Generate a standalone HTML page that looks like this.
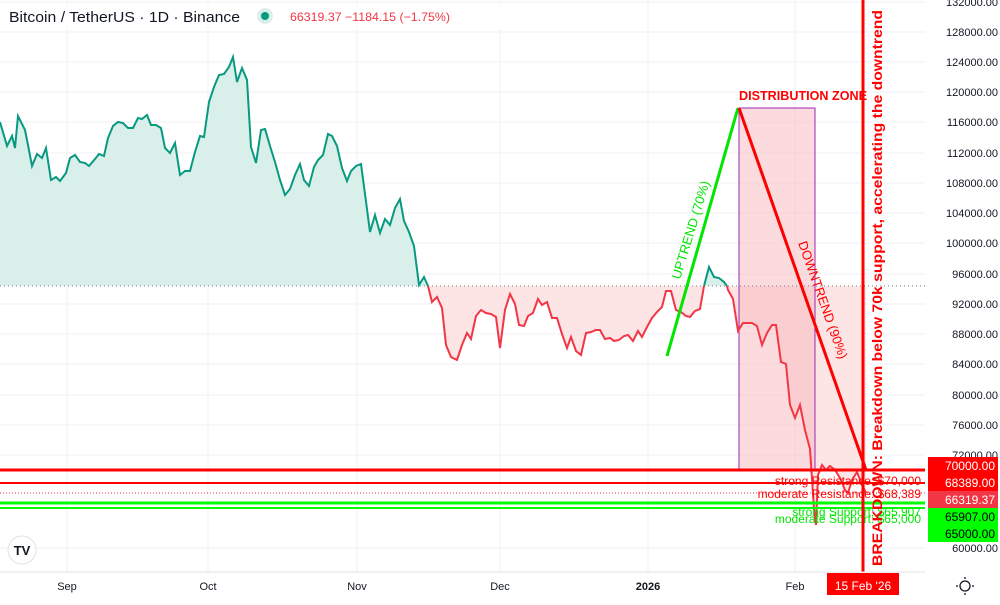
<!DOCTYPE html>
<html><head><meta charset="utf-8"><style>
body{margin:0;width:1000px;height:600px;overflow:hidden;background:#fff;font-family:"Liberation Sans",sans-serif}
</style></head><body>
<svg width="1000" height="600" viewBox="0 0 1000 600" xmlns="http://www.w3.org/2000/svg" font-family="Liberation Sans, sans-serif">
<rect width="1000" height="600" fill="#fff"/>
<g stroke="#f0f2f5" stroke-width="1">
<line x1="67" y1="0" x2="67" y2="572"/><line x1="208" y1="0" x2="208" y2="572"/><line x1="357" y1="0" x2="357" y2="572"/><line x1="500" y1="0" x2="500" y2="572"/><line x1="648" y1="0" x2="648" y2="572"/><line x1="795" y1="0" x2="795" y2="572"/>
<line x1="0" y1="2" x2="925" y2="2"/><line x1="0" y1="32" x2="925" y2="32"/><line x1="0" y1="62" x2="925" y2="62"/><line x1="0" y1="92" x2="925" y2="92"/><line x1="0" y1="122" x2="925" y2="122"/><line x1="0" y1="153" x2="925" y2="153"/><line x1="0" y1="183" x2="925" y2="183"/><line x1="0" y1="213" x2="925" y2="213"/><line x1="0" y1="243" x2="925" y2="243"/><line x1="0" y1="274" x2="925" y2="274"/><line x1="0" y1="304" x2="925" y2="304"/><line x1="0" y1="334" x2="925" y2="334"/><line x1="0" y1="364" x2="925" y2="364"/><line x1="0" y1="395" x2="925" y2="395"/><line x1="0" y1="425" x2="925" y2="425"/><line x1="0" y1="455" x2="925" y2="455"/><line x1="0" y1="548" x2="925" y2="548"/>
</g>
<polygon fill="#d9efe9" points="0,286 0,122 7,146 12,136 15,148 18,116 25,130 28,145 32,166 37,154 42,158 46,148 51,180 56,177 60,181 66,173 70,158 75,155 80,162 85,163 89,166 95,159 99,154 104,156 108,138 113,126 118,122 123,123 128,128 133,128 138,118 142,119 147,115 151,125 156,125 161,128 165,148 170,153 175,143 180,175 185,171 190,171 195,152 200,136 204,137 209,102 214,87 219,75 224,74 229,67 233,57 237,82 242,68 247,80 251,147 256,163 261,130 265,129 270,146 275,162 280,180 285,195 290,189 295,175 300,164 304,180 309,186 314,167 318,160 323,155 328,134 332,136 337,146 342,168 347,181 351,171 356,166 361,164 365,194 370,232 375,215 380,233 385,219 390,225 395,208 400,199 404,221 409,232 414,246 419,285 424,277 428,286"/>
<polygon fill="#d9efe9" points="704,286 709,267 714,277 719,278 724,282 727,286"/>
<polygon fill="#fde4e5" points="428,286 432,302 437,297 442,308 446,345 451,357 457,360 462,345 467,333 471,339 476,316 481,310 486,313 491,314 496,317 500,348 505,310 510,294 515,304 519,325 524,326 528,316 533,313 538,299 542,305 547,302 552,318 557,318 562,334 567,348 571,337 576,351 581,355 586,333 591,332 596,330 600,330 605,339 610,338 614,341 619,340 624,336 628,335 633,341 638,331 642,337 647,327 652,318 657,312 662,307 666,291 671,291 676,310 681,312 686,316 690,317 695,311 700,309 704,286 727,286 728,290 733,299 738,331 743,323 748,323 752,323 757,326 762,345 767,333 772,325 776,325 781,362 786,364 790,405 795,418 800,405 805,430 810,449 814,509 816,525 818,475 822,465 826,470 830,466 835,470 840,478 845,490 848,493 852,480 857,472 862,485 866,493 866,286"/>
<rect x="739" y="108" width="76" height="362" fill="#f8b8bb" fill-opacity="0.5" stroke="#9c27b0" stroke-width="1"/>
<line x1="0" y1="286" x2="925" y2="286" stroke="#787b86" stroke-width="1" stroke-dasharray="1,3"/>
<polyline fill="none" stroke="#089981" stroke-width="2" points="0,122 7,146 12,136 15,148 18,116 25,130 28,145 32,166 37,154 42,158 46,148 51,180 56,177 60,181 66,173 70,158 75,155 80,162 85,163 89,166 95,159 99,154 104,156 108,138 113,126 118,122 123,123 128,128 133,128 138,118 142,119 147,115 151,125 156,125 161,128 165,148 170,153 175,143 180,175 185,171 190,171 195,152 200,136 204,137 209,102 214,87 219,75 224,74 229,67 233,57 237,82 242,68 247,80 251,147 256,163 261,130 265,129 270,146 275,162 280,180 285,195 290,189 295,175 300,164 304,180 309,186 314,167 318,160 323,155 328,134 332,136 337,146 342,168 347,181 351,171 356,166 361,164 365,194 370,232 375,215 380,233 385,219 390,225 395,208 400,199 404,221 409,232 414,246 419,285 424,277 428,286"/>
<polyline fill="none" stroke="#089981" stroke-width="2" points="704,286 709,267 714,277 719,278 724,282 727,286"/>
<polyline fill="none" stroke="#f23645" stroke-width="2" points="428,286 432,302 437,297 442,308 446,345 451,357 457,360 462,345 467,333 471,339 476,316 481,310 486,313 491,314 496,317 500,348 505,310 510,294 515,304 519,325 524,326 528,316 533,313 538,299 542,305 547,302 552,318 557,318 562,334 567,348 571,337 576,351 581,355 586,333 591,332 596,330 600,330 605,339 610,338 614,341 619,340 624,336 628,335 633,341 638,331 642,337 647,327 652,318 657,312 662,307 666,291 671,291 676,310 681,312 686,316 690,317 695,311 700,309 704,286"/>
<polyline fill="none" stroke="#f23645" stroke-width="2" points="727,286 728,290 733,299 738,331 743,323 748,323 752,323 757,326 762,345 767,333 772,325 776,325 781,362 786,364 790,405 795,418 800,405 805,430 810,449 814,509 816,525 818,475 822,465 826,470 830,466 835,470 840,478 845,490 848,493 852,480 857,472 862,485 866,493"/>
<line x1="667" y1="356" x2="738" y2="108" stroke="#00e600" stroke-width="3"/>
<line x1="739" y1="108" x2="866" y2="470" stroke="#ff0000" stroke-width="3"/>
<text x="739" y="100" font-size="13" font-weight="bold" fill="#ff0000" textLength="128" lengthAdjust="spacingAndGlyphs">DISTRIBUTION ZONE</text>
<text transform="translate(680,280) rotate(-73)" font-size="13" fill="#00e600" textLength="102" lengthAdjust="spacingAndGlyphs">UPTREND (70%)</text>
<text transform="translate(798,243) rotate(70.5)" font-size="13" fill="#ff0000" textLength="124" lengthAdjust="spacingAndGlyphs">DOWNTREND (90%)</text>
<line x1="0" y1="470" x2="925" y2="470" stroke="#ff0000" stroke-width="3"/>
<line x1="0" y1="483" x2="925" y2="483" stroke="#ff0000" stroke-width="2"/>
<line x1="0" y1="493" x2="925" y2="493" stroke="#f23645" stroke-width="1" stroke-dasharray="1,2"/>
<line x1="0" y1="503" x2="925" y2="503" stroke="#00ff00" stroke-width="3"/>
<line x1="0" y1="508" x2="925" y2="508" stroke="#00ff00" stroke-width="2"/>
<g font-size="12" text-anchor="end">
<text x="921" y="485" fill="#ff0000">strong Resistance: $70,000</text>
<text x="921" y="498" fill="#ff0000">moderate Resistance: $68,389</text>
<text x="921" y="516" fill="#00e600">strong Support: $65,907</text>
<text x="921" y="523" fill="#00e600">moderate Support: $65,000</text>
</g>
<line x1="863" y1="0" x2="863" y2="572" stroke="#ff0000" stroke-width="3"/>
<text transform="translate(882,566) rotate(-90)" font-size="14" font-weight="bold" fill="#ff0000" textLength="556" lengthAdjust="spacingAndGlyphs">BREAKDOWN: Breakdown below 70k support, accelerating the downtrend</text>
<line x1="0" y1="572" x2="925" y2="572" stroke="#e0e3eb"/>
<g font-size="11" fill="#131722" text-anchor="end">
<text x="998" y="6">132000.00</text><text x="998" y="36">128000.00</text><text x="998" y="66">124000.00</text><text x="998" y="96">120000.00</text><text x="998" y="126">116000.00</text><text x="998" y="157">112000.00</text><text x="998" y="187">108000.00</text><text x="998" y="217">104000.00</text><text x="998" y="247">100000.00</text><text x="998" y="278">96000.00</text><text x="998" y="308">92000.00</text><text x="998" y="338">88000.00</text><text x="998" y="368">84000.00</text><text x="998" y="399">80000.00</text><text x="998" y="429">76000.00</text><text x="998" y="459">72000.00</text><text x="998" y="552">60000.00</text>
</g>
<rect x="928" y="457" width="70" height="17" fill="#ff0000"/>
<rect x="928" y="474" width="70" height="17" fill="#ff0000"/>
<rect x="928" y="491" width="70" height="17" fill="#f23645"/>
<rect x="928" y="508" width="70" height="17" fill="#00ff00"/>
<rect x="928" y="525" width="70" height="17" fill="#00ff00"/>
<g font-size="12" text-anchor="end">
<text x="995" y="470" fill="#fff">70000.00</text><text x="995" y="487" fill="#fff">68389.00</text><text x="995" y="504" fill="#fff">66319.37</text><text x="995" y="521" fill="#000">65907.00</text><text x="995" y="538" fill="#000">65000.00</text>
</g>
<g font-size="11" fill="#131722" text-anchor="middle">
<text x="67" y="590">Sep</text><text x="208" y="590">Oct</text><text x="357" y="590">Nov</text><text x="500" y="590">Dec</text><text x="648" y="590" font-weight="bold">2026</text><text x="795" y="590">Feb</text>
</g>
<rect x="827" y="573" width="72" height="22" fill="#ff0000"/>
<text x="863" y="590" font-size="12" fill="#fff" text-anchor="middle">15 Feb '26</text>
<circle cx="965" cy="586" r="5" fill="none" stroke="#131722" stroke-width="1.3"/>
<g stroke="#131722" stroke-width="1.3"><line x1="965" y1="577" x2="965" y2="579"/><line x1="965" y1="593" x2="965" y2="595"/><line x1="956" y1="586" x2="958" y2="586"/><line x1="972" y1="586" x2="974" y2="586"/></g>
<circle cx="22" cy="550" r="14" fill="#fff" stroke="#e0e3eb"/>
<text x="22" y="555" font-size="13" font-weight="bold" fill="#131722" text-anchor="middle">TV</text>
<rect x="0" y="4" width="530" height="24" fill="#fff" fill-opacity="0.85"/>
<text x="9" y="22" font-size="15" fill="#131722" textLength="231" lengthAdjust="spacingAndGlyphs">Bitcoin / TetherUS · 1D · Binance</text>
<circle cx="265" cy="16" r="8" fill="#d9efe9"/><circle cx="265" cy="16" r="4" fill="#089981"/>
<text x="290" y="21" font-size="12" fill="#f23645" textLength="160" lengthAdjust="spacingAndGlyphs">66319.37  −1184.15 (−1.75%)</text>
</svg>
</body></html>
